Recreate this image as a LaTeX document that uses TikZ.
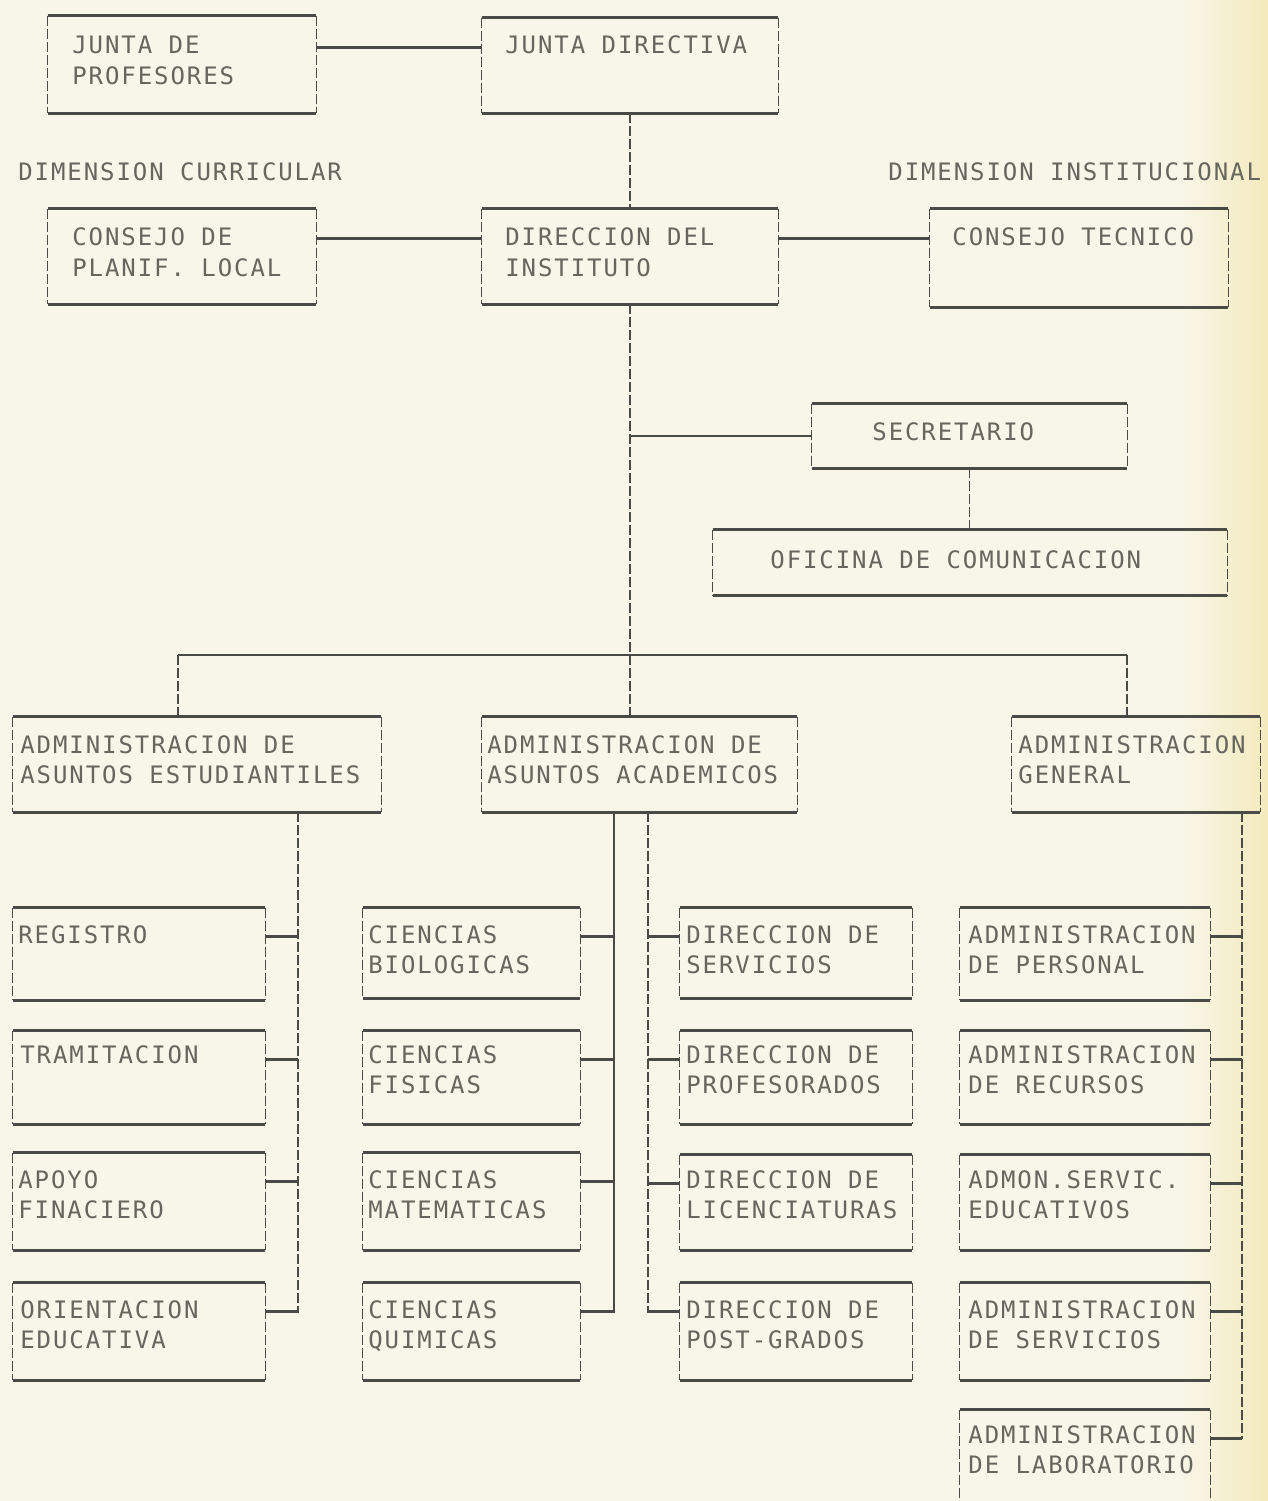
\documentclass[tikz,border=0pt]{standalone}
\usepackage{fontspec}
\newfontfamily\dm[LetterSpace=8]{DejaVu Sans Mono}
\usetikzlibrary{fit,calc}
\definecolor{paper}{HTML}{F8F6E8}
\definecolor{ink}{HTML}{4A4A46}
\definecolor{txtc}{HTML}{66665E}
\definecolor{yel}{HTML}{F4EABD}
\tikzset{
  hl/.style={ink, line width=1.2pt},
  vl/.style={ink, line width=0.7pt, dash pattern=on 5pt off 1.5pt},
  vs/.style={ink, line width=0.7pt},
  tx/.style={anchor=base west, inner sep=0pt, text=txtc, font=\dm\fontsize{12}{14}\selectfont},
  frame/.style={inner sep=0pt, draw=none},
}
\newcounter{tn}
\newcommand\dbox[5]{%
  \coordinate (#1-a) at (#2,#3); \coordinate (#1-b) at (#4,#5);
  \node[frame, fit=(#1-a)(#1-b)] (#1) {};
  \draw[hl] (#1.north west) -- (#1.north east) (#1.south west) -- (#1.south east);
  \draw[vl] (#1.north west) -- (#1.south west) (#1.north east) -- (#1.south east);
}
\newcommand\tl[3]{\stepcounter{tn}\node[tx] (t\arabic{tn}) at (#1,#2) {#3};}
\newcommand\tick[3]{\draw[hl] ($(#1.north #3)+(0,29)$) coordinate (#1-t) -- (#1-t -| #2);}
\begin{document}
\begin{tikzpicture}[x=0.5pt,y=-0.5pt]
\useasboundingbox (0,0) rectangle (1268,1501);
\fill[paper] (0,0) rectangle (1268,1501);
\shade[left color=paper, right color=yel] (1180,0) rectangle (1268,1501);

% boxes
\dbox{jp}{48}{16}{316}{113}
\dbox{jd}{482}{18}{778}{113}
\dbox{cpl}{48}{209}{316}{304}
\dbox{di}{482}{209}{778}{304}
\dbox{ct}{930}{209}{1228}{307}
\dbox{sec}{812}{404}{1127}{468}
\dbox{of}{713}{530}{1227}{595}
\dbox{aae}{13}{717}{381}{812}
\dbox{aac}{482}{717}{797}{812}
\dbox{ag}{1012}{717}{1260}{812}
\dbox{reg}{13}{908}{265}{1000}
\dbox{tra}{13}{1031}{265}{1124}
\dbox{apo}{13}{1153}{265}{1250}
\dbox{ori}{13}{1283}{265}{1380}
\dbox{cb}{363}{908}{580}{998}
\dbox{cf}{363}{1031}{580}{1124}
\dbox{cm}{363}{1153}{580}{1250}
\dbox{cq}{363}{1283}{580}{1380}
\dbox{ds}{680}{908}{912}{998}
\dbox{dp}{680}{1031}{912}{1124}
\dbox{dl}{680}{1155}{912}{1250}
\dbox{dg}{680}{1283}{912}{1380}
\dbox{ap}{960}{908}{1210}{1000}
\dbox{ar}{960}{1031}{1210}{1124}
\dbox{ae}{960}{1155}{1210}{1250}
\dbox{as}{960}{1283}{1210}{1380}
\dbox{al}{960}{1410}{1210}{1530}

% upper connectors
\draw[hl] ($(jp.north east)+(0,32)$) coordinate (c1) -- (c1 -| jd.west);
\draw[hl] ($(cpl.north east)+(0,30)$) coordinate (c2) -- (c2 -| di.west);
\draw[hl] ($(di.north east)+(0,30)$) coordinate (c3) -- (c3 -| ct.west);
\draw[vl] (jd.south) -- (di.north);
\draw[vl] (di.south) -- (di.south |- aac.north);
\draw[hl] (sec.west -| di.south) -- (sec.west);
\draw[vl] (sec.south) -- (sec.south |- of.north);

% bus
\coordinate (busL) at (178,655);
\coordinate (busR) at (1127,655);
\draw[hl] (busL) -- (busR);
\draw[vl] (busL) -- (busL |- aae.north);
\draw[vl] (busR) -- (busR |- ag.north);

% spines
\coordinate (sp1) at (298,1313);
\coordinate (sp2) at (614,1313);
\coordinate (sp3) at (648,1313);
\coordinate (sp4) at (1242,1439);
\draw[vl] (aae.south -| sp1) -- (sp1);
\draw[vs] (aac.south -| sp2) -- (sp2);
\draw[vl] (aac.south -| sp3) -- (sp3);
\draw[vl] (ag.south -| sp4) -- (sp4);
\tick{reg}{sp1}{east} \tick{tra}{sp1}{east} \tick{apo}{sp1}{east} \tick{ori}{sp1}{east}
\tick{cb}{sp2}{east} \tick{cf}{sp2}{east} \tick{cm}{sp2}{east} \tick{cq}{sp2}{east}
\tick{ds}{sp3}{west} \tick{dp}{sp3}{west} \tick{dl}{sp3}{west} \tick{dg}{sp3}{west}
\tick{ap}{sp4}{east} \tick{ar}{sp4}{east} \tick{ae}{sp4}{east} \tick{as}{sp4}{east} \tick{al}{sp4}{east}

% texts
\tl{72}{53}{JUNTA DE} \tl{72}{84}{PROFESORES}
\tl{505}{53}{JUNTA DIRECTIVA}
\tl{18}{180}{DIMENSION CURRICULAR}
\tl{888}{180}{DIMENSION INSTITUCIONAL}
\tl{72}{245}{CONSEJO DE} \tl{72}{276}{PLANIF. LOCAL}
\tl{505}{245}{DIRECCION DEL} \tl{505}{276}{INSTITUTO}
\tl{952}{245}{CONSEJO TECNICO}
\tl{872}{440}{SECRETARIO}
\tl{770}{568}{OFICINA DE COMUNICACION}
\tl{20}{753}{ADMINISTRACION DE} \tl{20}{783}{ASUNTOS ESTUDIANTILES}
\tl{487}{753}{ADMINISTRACION DE} \tl{487}{783}{ASUNTOS ACADEMICOS}
\tl{1018}{753}{ADMINISTRACION} \tl{1018}{783}{GENERAL}
\tl{18}{943}{REGISTRO}
\tl{20}{1063}{TRAMITACION}
\tl{18}{1188}{APOYO} \tl{18}{1218}{FINACIERO}
\tl{20}{1318}{ORIENTACION} \tl{20}{1348}{EDUCATIVA}
\tl{368}{943}{CIENCIAS} \tl{368}{973}{BIOLOGICAS}
\tl{368}{1063}{CIENCIAS} \tl{368}{1093}{FISICAS}
\tl{368}{1188}{CIENCIAS} \tl{368}{1218}{MATEMATICAS}
\tl{368}{1318}{CIENCIAS} \tl{368}{1348}{QUIMICAS}
\tl{686}{943}{DIRECCION DE} \tl{686}{973}{SERVICIOS}
\tl{686}{1063}{DIRECCION DE} \tl{686}{1093}{PROFESORADOS}
\tl{686}{1188}{DIRECCION DE} \tl{686}{1218}{LICENCIATURAS}
\tl{686}{1318}{DIRECCION DE} \tl{686}{1348}{POST-GRADOS}
\tl{968}{943}{ADMINISTRACION} \tl{968}{973}{DE PERSONAL}
\tl{968}{1063}{ADMINISTRACION} \tl{968}{1093}{DE RECURSOS}
\tl{968}{1188}{ADMON.SERVIC.} \tl{968}{1218}{EDUCATIVOS}
\tl{968}{1318}{ADMINISTRACION} \tl{968}{1348}{DE SERVICIOS}
\tl{968}{1443}{ADMINISTRACION} \tl{968}{1473}{DE LABORATORIO}
\end{tikzpicture}
\end{document}
